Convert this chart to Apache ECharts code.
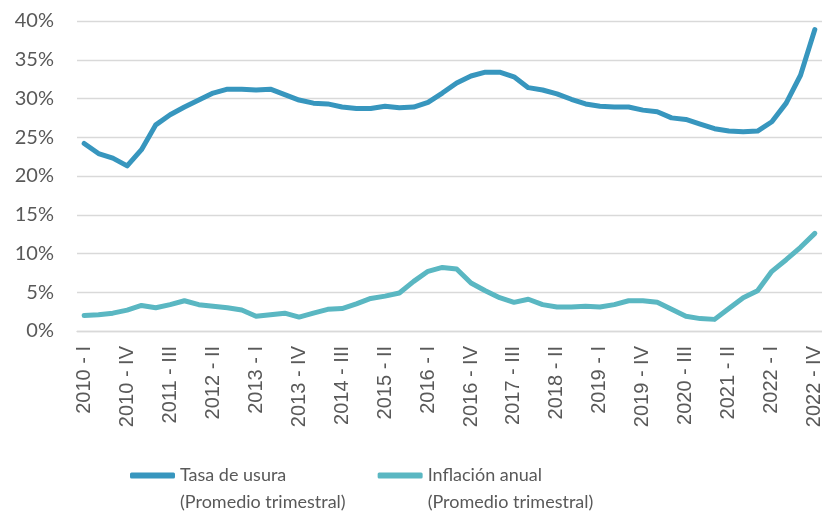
<!DOCTYPE html>
<html>
<head>
<meta charset="utf-8">
<script src="https://cdn.jsdelivr.net/npm/echarts@6/dist/echarts.min.js"></script>
<style>
  html, body { margin: 0; padding: 0; background: #fff; }
  #grafico { width: 822px; height: 512px; }
</style>
</head>
<body>
<div id="grafico"></div>
<script>
var anios = ['2010','2011','2012','2013','2014','2015','2016','2017','2018','2019','2020','2021','2022'];
var trimestres = ['I','II','III','IV'];
var categorias = [];
anios.forEach(function (a) {
	trimestres.forEach(function (t) { categorias.push(a + ' - ' + t); });
});

// Tasa de usura (Promedio trimestral), %
var usura = [24.2, 22.9, 22.3, 21.3, 23.4, 26.6, 27.9, 28.9, 29.8, 30.7, 31.2, 31.2, 31.1,
	31.2, 30.5, 29.8, 29.4, 29.3, 28.9, 28.7, 28.7, 29.0, 28.8, 28.9, 29.5, 30.7,
	32.0, 32.9, 33.4, 33.4, 32.8, 31.4, 31.1, 30.6, 29.9, 29.3, 29.0, 28.9, 28.9,
	28.5, 28.3, 27.5, 27.3, 26.7, 26.1, 25.8, 25.7, 25.8, 27.0, 29.4, 33.0, 38.9];

// Inflación anual (Promedio trimestral), %
var inflacion = [2.0, 2.1, 2.3, 2.7, 3.3, 3.0, 3.4, 3.9, 3.4, 3.2, 3.0, 2.7, 1.9,
	2.1, 2.3, 1.8, 2.3, 2.8, 2.9, 3.5, 4.2, 4.5, 4.9, 6.4, 7.7, 8.2,
	8.0, 6.2, 5.2, 4.3, 3.7, 4.1, 3.4, 3.1, 3.1, 3.2, 3.1, 3.4, 3.9,
	3.9, 3.7, 2.8, 1.9, 1.6, 1.5, 2.9, 4.3, 5.2, 7.7, 9.2, 10.8, 12.6];

var nombres = ['Tasa de usura', 'Inflación anual'];
var subtitulo = '(Promedio trimestral)';
var colores = ['#3796be', '#5ab7c2'];

var myChart = echarts.init(document.getElementById('grafico'));
var option = {
	animation: false,
	color: colores,
	grid: {
		left: 77,
		right: 0,
		top: 21,
		bottom: 181,
		containLabel: false,
		outerBoundsMode: 'none'
	},
	legend: {
		left: 130,
		top: 435,
		padding: 0,
		itemGap: 32,
		itemWidth: 45,
		itemHeight: 6,
		icon: 'roundRect',
		// linea vacia arriba para que el icono quede a la altura de la primera linea
		formatter: function (name) {
			return ' \n' + name + '\n' + subtitulo;
		},
		textStyle: {
			fontFamily: 'Lato',
			fontSize: 18,
			color: '#595959',
			lineHeight: 27
		},
		data: nombres
	},
	xAxis: {
		type: 'category',
		boundaryGap: true,
		data: categorias,
		axisLine: { lineStyle: { color: '#d9d9d9', width: 1.3 } },
		axisTick: { show: false },
		axisLabel: {
			interval: 2,
			rotate: 90,
			margin: 15,
			fontFamily: 'Liberation Sans',
			fontSize: 20,
			color: '#595959'
		}
	},
	yAxis: {
		type: 'value',
		min: 0,
		max: 40,
		interval: 5,
		axisLine: { show: false },
		axisTick: { show: false },
		axisLabel: {
			formatter: '{value}%',
			margin: 23,
			fontFamily: 'Lato',
			fontSize: 20,
			color: '#595959'
		},
		splitLine: { lineStyle: { color: '#d9d9d9', width: 1.3 } }
	},
	series: [
		{
			name: nombres[0],
			type: 'line',
			data: usura,
			symbol: 'none',
			lineStyle: { width: 5, cap: 'round', join: 'round' }
		},
		{
			name: nombres[1],
			type: 'line',
			data: inflacion,
			symbol: 'none',
			lineStyle: { width: 5, cap: 'round', join: 'round' }
		}
	]
};
myChart.setOption(option);
</script>
</body>
</html>
